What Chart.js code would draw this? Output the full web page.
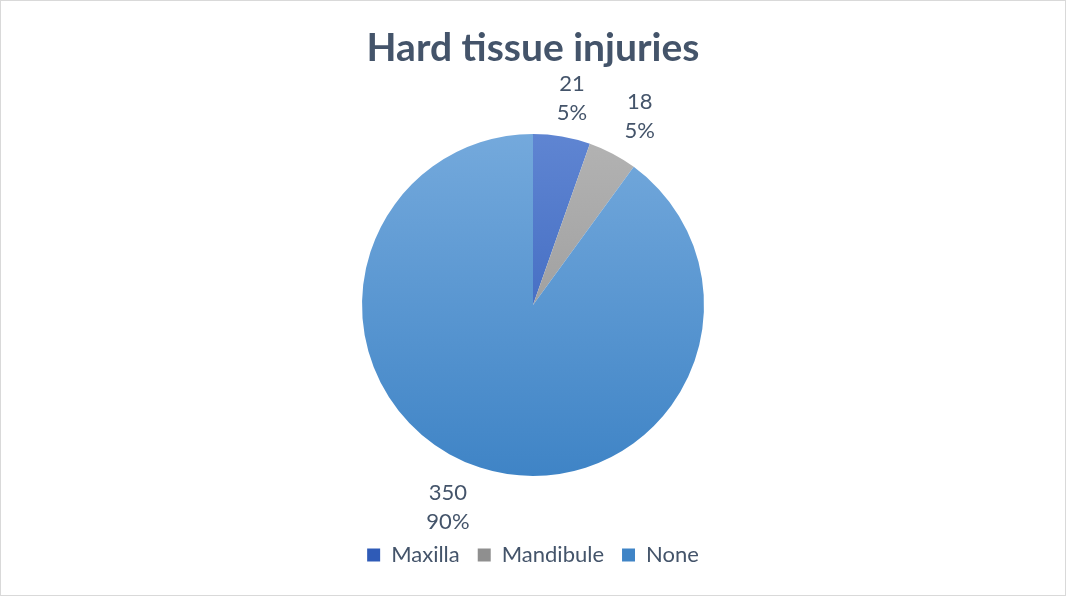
<!DOCTYPE html>
<html>
<head>
<meta charset="utf-8">
<script src="https://cdn.jsdelivr.net/npm/chart.js@4/dist/chart.umd.min.js"></script>
<style>
  html, body { margin: 0; padding: 0; background: #ffffff; }
  #wrap { box-sizing: border-box; width: 1066px; height: 596px; border: 1px solid #D9D9D9; background: #fff; }
  #c { display: block; }
</style>
</head>
<body>
<div id="wrap"><canvas id="c" width="1064" height="594"></canvas></div>
<script>
// ---- data ----
const titleText = 'Hard tissue injuries';
const categories = ['Maxilla', 'Mandibule', 'None'];
const values = [21, 18, 350];

// ---- styles ----
const gradTop = ['#5F85D2', '#B3B3B3', '#74A9DC'];
const gradBottom = ['#2F5BB7', '#8F8F8F', '#3F84C6'];
const labelOffset = [39, 46, 49];      // distance beyond rim, px
const labelAngleNudge = [1.0, 1.7, 4.7]; // degrees
const textColor = '#44546A';
const fontFamily = 'Lato, "Open Sans", sans-serif';

function bg(ctx) {
  const i = ctx.dataIndex;
  const chart = ctx.chart;
  const ca = chart.chartArea;
  if (!ca) return gradTop[i];
  const meta = chart.getDatasetMeta(0);
  const arc = meta.data[0];
  const cy = arc && arc.y ? arc.y : (ca.top + ca.bottom) / 2;
  const r = arc && arc.outerRadius ? arc.outerRadius : 171;
  const g = chart.ctx.createLinearGradient(0, cy - r, 0, cy + r);
  g.addColorStop(0, gradTop[i]);
  g.addColorStop(1, gradBottom[i]);
  return g;
}

const labelPlugin = {
  id: 'pieLabels',
  afterDatasetsDraw(chart) {
    const ctx = chart.ctx;
    const meta = chart.getDatasetMeta(0);
    const total = values.reduce((a, b) => a + b, 0);
    ctx.save();
    ctx.font = '22px ' + fontFamily;
    ctx.fillStyle = textColor;
    ctx.textAlign = 'center';
    ctx.textBaseline = 'middle';
    meta.data.forEach((arc, i) => {
      const p = arc.getProps(['x', 'y', 'startAngle', 'endAngle', 'outerRadius'], true);
      const mid = (p.startAngle + p.endAngle) / 2 + labelAngleNudge[i] * Math.PI / 180;
      const r = p.outerRadius + labelOffset[i];
      const x = p.x + Math.cos(mid) * r;
      const y = p.y + Math.sin(mid) * r;
      const pct = Math.round(values[i] / total * 100) + '%';
      ctx.fillText(String(values[i]), x, y - 14.5);
      ctx.fillText(pct, x, y + 14.5);
    });
    ctx.restore();
  }
};

new Chart(document.getElementById('c'), {
  type: 'pie',
  data: {
    labels: categories,
    datasets: [{
      data: values,
      backgroundColor: bg,
      borderWidth: 0,
      radius: 171
    }]
  },
  options: {
    responsive: false,
    animation: false,
    events: [],
    layout: { padding: { top: 0, bottom: 19, left: 0, right: 0 } },
    plugins: {
      title: {
        display: true,
        text: titleText,
        color: textColor,
        font: { family: fontFamily, size: 39, weight: 'bold', lineHeight: 1.2 },
        padding: { top: 23.6, bottom: 12.6 }
      },
      legend: {
        display: true,
        position: 'bottom',
        labels: {
          color: textColor,
          font: { family: fontFamily, size: 22 },
          boxWidth: 13,
          boxHeight: 13,
          padding: 18
        }
      },
      tooltip: { enabled: false }
    }
  },
  plugins: [labelPlugin]
});
</script>
</body>
</html>
